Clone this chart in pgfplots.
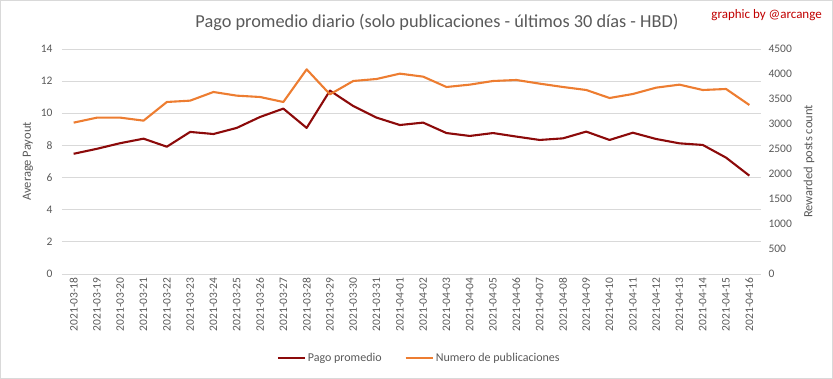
\documentclass[border=0pt]{standalone}
\usepackage{pgfplots}
\pgfplotsset{compat=1.18}
\usepackage{fontspec}
\setmainfont{Carlito}
\definecolor{txt}{HTML}{595959}
\definecolor{gridc}{HTML}{D9D9D9}
\definecolor{pago}{HTML}{8C0A0A}
\definecolor{num}{HTML}{ED7D31}
\definecolor{credit}{HTML}{C00000}
\begin{document}
\begin{tikzpicture}[x=1pt,y=1pt]
\path[use as bounding box] (0,0) rectangle (833,379);
\draw[gridc,line width=0.8pt] (0.5,0.5) rectangle (832.5,378.5);
\pgfplotsset{
  common/.style={
    scale only axis, width=699pt, height=225pt,
    at={(62pt,105pt)}, anchor=south west,
    xmin=-0.5, xmax=29.5,
    every axis plot/.append style={line width=2.1pt, no markers, line join=round},
    tick style={draw=none},
    /pgf/number format/assume math mode=true,
    /pgf/number format/1000 sep={},
    ticklabel style={font=\fontsize{11.5}{13}\selectfont, text=txt},
    label style={font=\fontsize{12.5}{14}\selectfont, text=txt},
  }
}
\begin{axis}[common,
  axis y line*=left, axis x line*=bottom,
  axis line style={draw=none},
  ymin=0, ymax=14, ytick={0,2,...,14},
  ymajorgrids=true, xmajorgrids=false,
  major grid style={draw=gridc, line width=0.8pt},
  xtick={0,...,29},
  xticklabels={2021-03-18,2021-03-19,2021-03-20,2021-03-21,2021-03-22,2021-03-23,2021-03-24,2021-03-25,2021-03-26,2021-03-27,2021-03-28,2021-03-29,2021-03-30,2021-03-31,2021-04-01,2021-04-02,2021-04-03,2021-04-04,2021-04-05,2021-04-06,2021-04-07,2021-04-08,2021-04-09,2021-04-10,2021-04-11,2021-04-12,2021-04-13,2021-04-14,2021-04-15,2021-04-16},
  xticklabel style={rotate=90, anchor=east, font=\fontsize{11.5}{13}\selectfont, text=txt},
  yticklabel style={anchor=east, xshift=-6pt},
  ylabel={Average Payout},
  ylabel style={at={(axis description cs:-0.0486,0.5)}, anchor=center, rotate=0},
]
\addplot[pago] coordinates {
(0,7.48) (1,7.79) (2,8.14) (3,8.42) (4,7.92) (5,8.84) (6,8.71) (7,9.09) (8,9.77) (9,10.29)
(10,9.09) (11,11.41) (12,10.45) (13,9.73) (14,9.27) (15,9.42) (16,8.77) (17,8.59) (18,8.77) (19,8.55)
(20,8.34) (21,8.44) (22,8.86) (23,8.34) (24,8.79) (25,8.40) (26,8.13) (27,8.03) (28,7.24) (29,6.12)
};
\end{axis}
\begin{axis}[common,
  axis y line*=right, axis x line=none,
  axis line style={draw=none},
  ymin=0, ymax=4500, ytick={0,500,...,4500},
  yticklabel style={anchor=west, xshift=4pt},
  ylabel={Rewarded posts count},
  ylabel style={at={(axis description cs:1.0687,0.5)}, anchor=center, rotate=0},
  legend columns=2,
  legend style={at={(axis description cs:0.511,-0.373)}, anchor=center, draw=none, fill=none,
    font=\fontsize{12}{14}\selectfont, text=txt,
    /tikz/every even column/.append style={column sep=21pt}},
  legend image code/.code={\draw[#1] (0pt,0pt) -- (27pt,0pt);},
]
\addlegendimage{pago, line width=2.1pt}
\addlegendentry{Pago promedio}
\addplot[num] coordinates {
(0,3027) (1,3127) (2,3127) (3,3067) (4,3440) (5,3467) (6,3640) (7,3567) (8,3540) (9,3440)
(10,4093) (11,3593) (12,3860) (13,3900) (14,4007) (15,3947) (16,3740) (17,3787) (18,3860) (19,3880)
(20,3807) (21,3740) (22,3680) (23,3520) (24,3600) (25,3727) (26,3787) (27,3680) (28,3700) (29,3380)
};
\addlegendentry{Numero de publicaciones}
\end{axis}
\node[anchor=center, text=txt, font=\fontsize{18.3}{21}\selectfont] at (437,357) {Pago promedio diario (solo publicaciones - últimos 30 días - HBD)};
\node[anchor=east, text=credit, font=\fontsize{13}{15}\selectfont, inner sep=0pt] at (822,364) {graphic by @arcange};
\end{tikzpicture}
\end{document}
